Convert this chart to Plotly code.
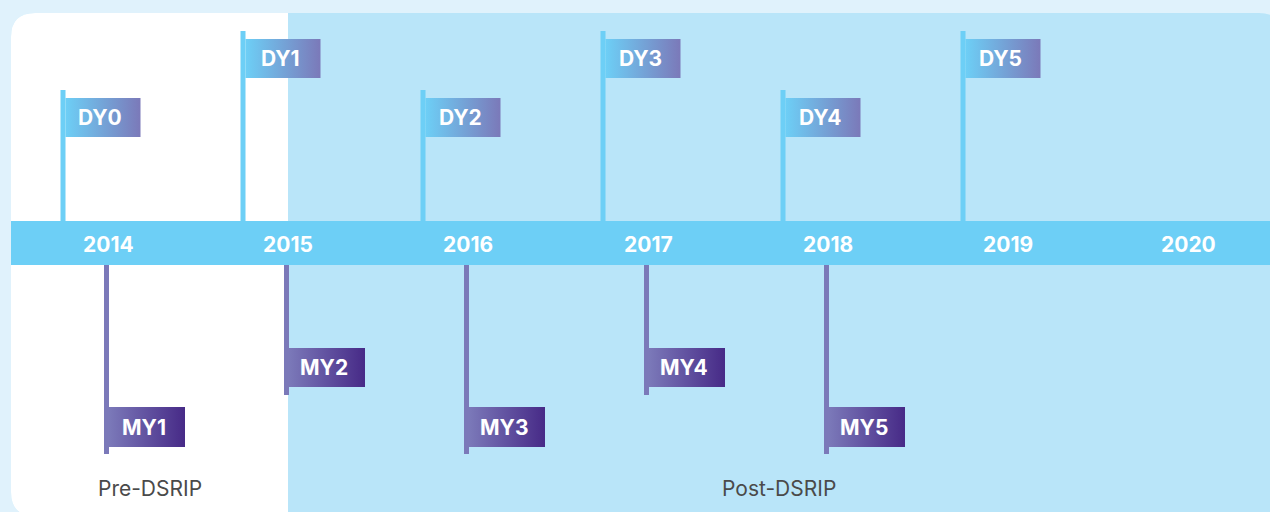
import plotly.graph_objects as go

# timeline data
years = [2014, 2015, 2016, 2017, 2018, 2019, 2020]
dy_labels = ["DY0", "DY1", "DY2", "DY3", "DY4", "DY5"]
dy_start = [2014.25, 2015.25, 2016.25, 2017.25, 2018.25, 2019.25]   # demonstration years start in April
my_labels = ["MY1", "MY2", "MY3", "MY4", "MY5"]
my_start = [2014.5, 2015.5, 2016.5, 2017.5, 2018.5]                 # measurement years start in July
phase_labels = ["Pre-DSRIP", "Post-DSRIP"]
dsrip_start = 2015.5

# colours
OUTER = "#e0f2fc"
POST_BG = "#b9e5f9"
BAND = "#6dcff6"
DY_POLE = "#6dcff6"
MY_POLE = "#7b79b9"
DY_GRAD = [[0, "#6dcff6"], [1, "#7b79b9"]]
MY_GRAD = [[0, "#7b79b9"], [1, "#472a87"]]

W, H = 1270, 512
S = 180.0                       # pixels per year
X0 = 2014 - 18 / S              # year value at the left edge of the figure


def px(p):
    return X0 + p / S


def rounded_path(x0, y0, x1, y1, rtl=0, rtr=0, rbr=0, rbl=0):
    # x in pixels, converted to years; y already in pixels (reversed axis)
    X = px
    d = f"M {X(x0)},{y0 + rtl} Q {X(x0)},{y0} {X(x0 + rtl)},{y0} "
    d += f"L {X(x1 - rtr)},{y0} Q {X(x1)},{y0} {X(x1)},{y0 + rtr} "
    d += f"L {X(x1)},{y1 - rbr} Q {X(x1)},{y1} {X(x1 - rbr)},{y1} "
    d += f"L {X(x0 + rbl)},{y1} Q {X(x0)},{y1} {X(x0)},{y1 - rbl} Z"
    return d


CARD_L, CARD_T, CARD_R, CARD_B = 11, 13, 1283, 516
BAND_T, BAND_B = 221, 265
POLE_W = 5
FLAG_W = 75
LABEL_FONT = dict(family="Inter", size=21, color="white", weight=700)

shapes = []
# card: white pre part, light blue post part
shapes.append(dict(type="path", path=rounded_path(CARD_L, CARD_T, CARD_R, CARD_B, 24, 24, 24, 24),
                   fillcolor=POST_BG, line=dict(width=0), layer="below"))
pre_right = (dsrip_start - X0) * S
shapes.append(dict(type="path", path=rounded_path(CARD_L, CARD_T, pre_right, CARD_B, 24, 0, 0, 24),
                   fillcolor="white", line=dict(width=0), layer="below"))
# timeline band
shapes.append(dict(type="rect", x0=px(CARD_L), x1=px(CARD_R), y0=BAND_T, y1=BAND_B,
                   fillcolor=BAND, line=dict(width=0), layer="below"))

fig = go.Figure()
annotations = []

# DY flags above the band
for i, (lab, t) in enumerate(zip(dy_labels, dy_start)):
    high = i % 2 == 1
    pole_top = 31 if high else 90
    fy0, fy1 = (39, 78) if high else (98, 137)
    shapes.append(dict(type="line", x0=t, x1=t, y0=pole_top, y1=BAND_T,
                       line=dict(color=DY_POLE, width=POLE_W), layer="below"))
    fx0 = t + (POLE_W / 2) / S
    fx1 = fx0 + FLAG_W / S
    fig.add_trace(go.Scatter(x=[fx0, fx1, fx1, fx0, fx0], y=[fy0, fy0, fy1, fy1, fy0],
                             mode="lines", fill="toself", line=dict(width=0),
                             fillgradient=dict(type="horizontal", colorscale=DY_GRAD),
                             hoverinfo="skip", showlegend=False))
    annotations.append(dict(x=(fx0 + fx1) / 2 - 3 / S, y=(fy0 + fy1) / 2, text=lab,
                            showarrow=False, font=LABEL_FONT))

# MY flags below the band
for i, (lab, t) in enumerate(zip(my_labels, my_start)):
    high = i % 2 == 1
    pole_bot = 395 if high else 454
    fy0, fy1 = (348, 387) if high else (407, 447)
    tc = t - 1.5 / S
    shapes.append(dict(type="line", x0=tc, x1=tc, y0=BAND_B, y1=pole_bot,
                       line=dict(color=MY_POLE, width=POLE_W), layer="below"))
    fx0 = tc + (POLE_W / 2) / S
    fx1 = fx0 + 76 / S
    fig.add_trace(go.Scatter(x=[fx0, fx1, fx1, fx0, fx0], y=[fy0, fy0, fy1, fy1, fy0],
                             mode="lines", fill="toself", line=dict(width=0),
                             fillgradient=dict(type="horizontal", colorscale=MY_GRAD),
                             hoverinfo="skip", showlegend=False))
    annotations.append(dict(x=(fx0 + fx1) / 2 - 3 / S, y=(fy0 + fy1) / 2, text=lab,
                            showarrow=False, font=LABEL_FONT))

# year labels on the band
for yr in years:
    annotations.append(dict(x=yr + 0.5, y=(BAND_T + BAND_B) / 2 + 1, text=str(yr),
                            showarrow=False, font=dict(LABEL_FONT, size=21)))

# phase labels
pre_mid = (px(CARD_L) + dsrip_start) / 2
post_mid = (dsrip_start + px(1270)) / 2
for lab, xm in zip(phase_labels, [pre_mid, post_mid]):
    annotations.append(dict(x=xm, y=488, text=lab, showarrow=False,
                            font=dict(family="Inter", size=21, color="#4a4a4a", weight=400)))

fig.update_layout(
    width=W, height=H,
    margin=dict(l=0, r=0, t=0, b=0),
    paper_bgcolor=OUTER, plot_bgcolor=OUTER,
    xaxis=dict(range=[px(0), px(W)], visible=False, fixedrange=True),
    yaxis=dict(range=[H, 0], visible=False, fixedrange=True),
    shapes=shapes, annotations=annotations,
    showlegend=False,
)

fig.write_html("out.html", config={"displayModeBar": False},
               post_script="document.body.style.margin='0';document.body.style.overflow='hidden';"
                           "document.body.style.background='" + OUTER + "';")
